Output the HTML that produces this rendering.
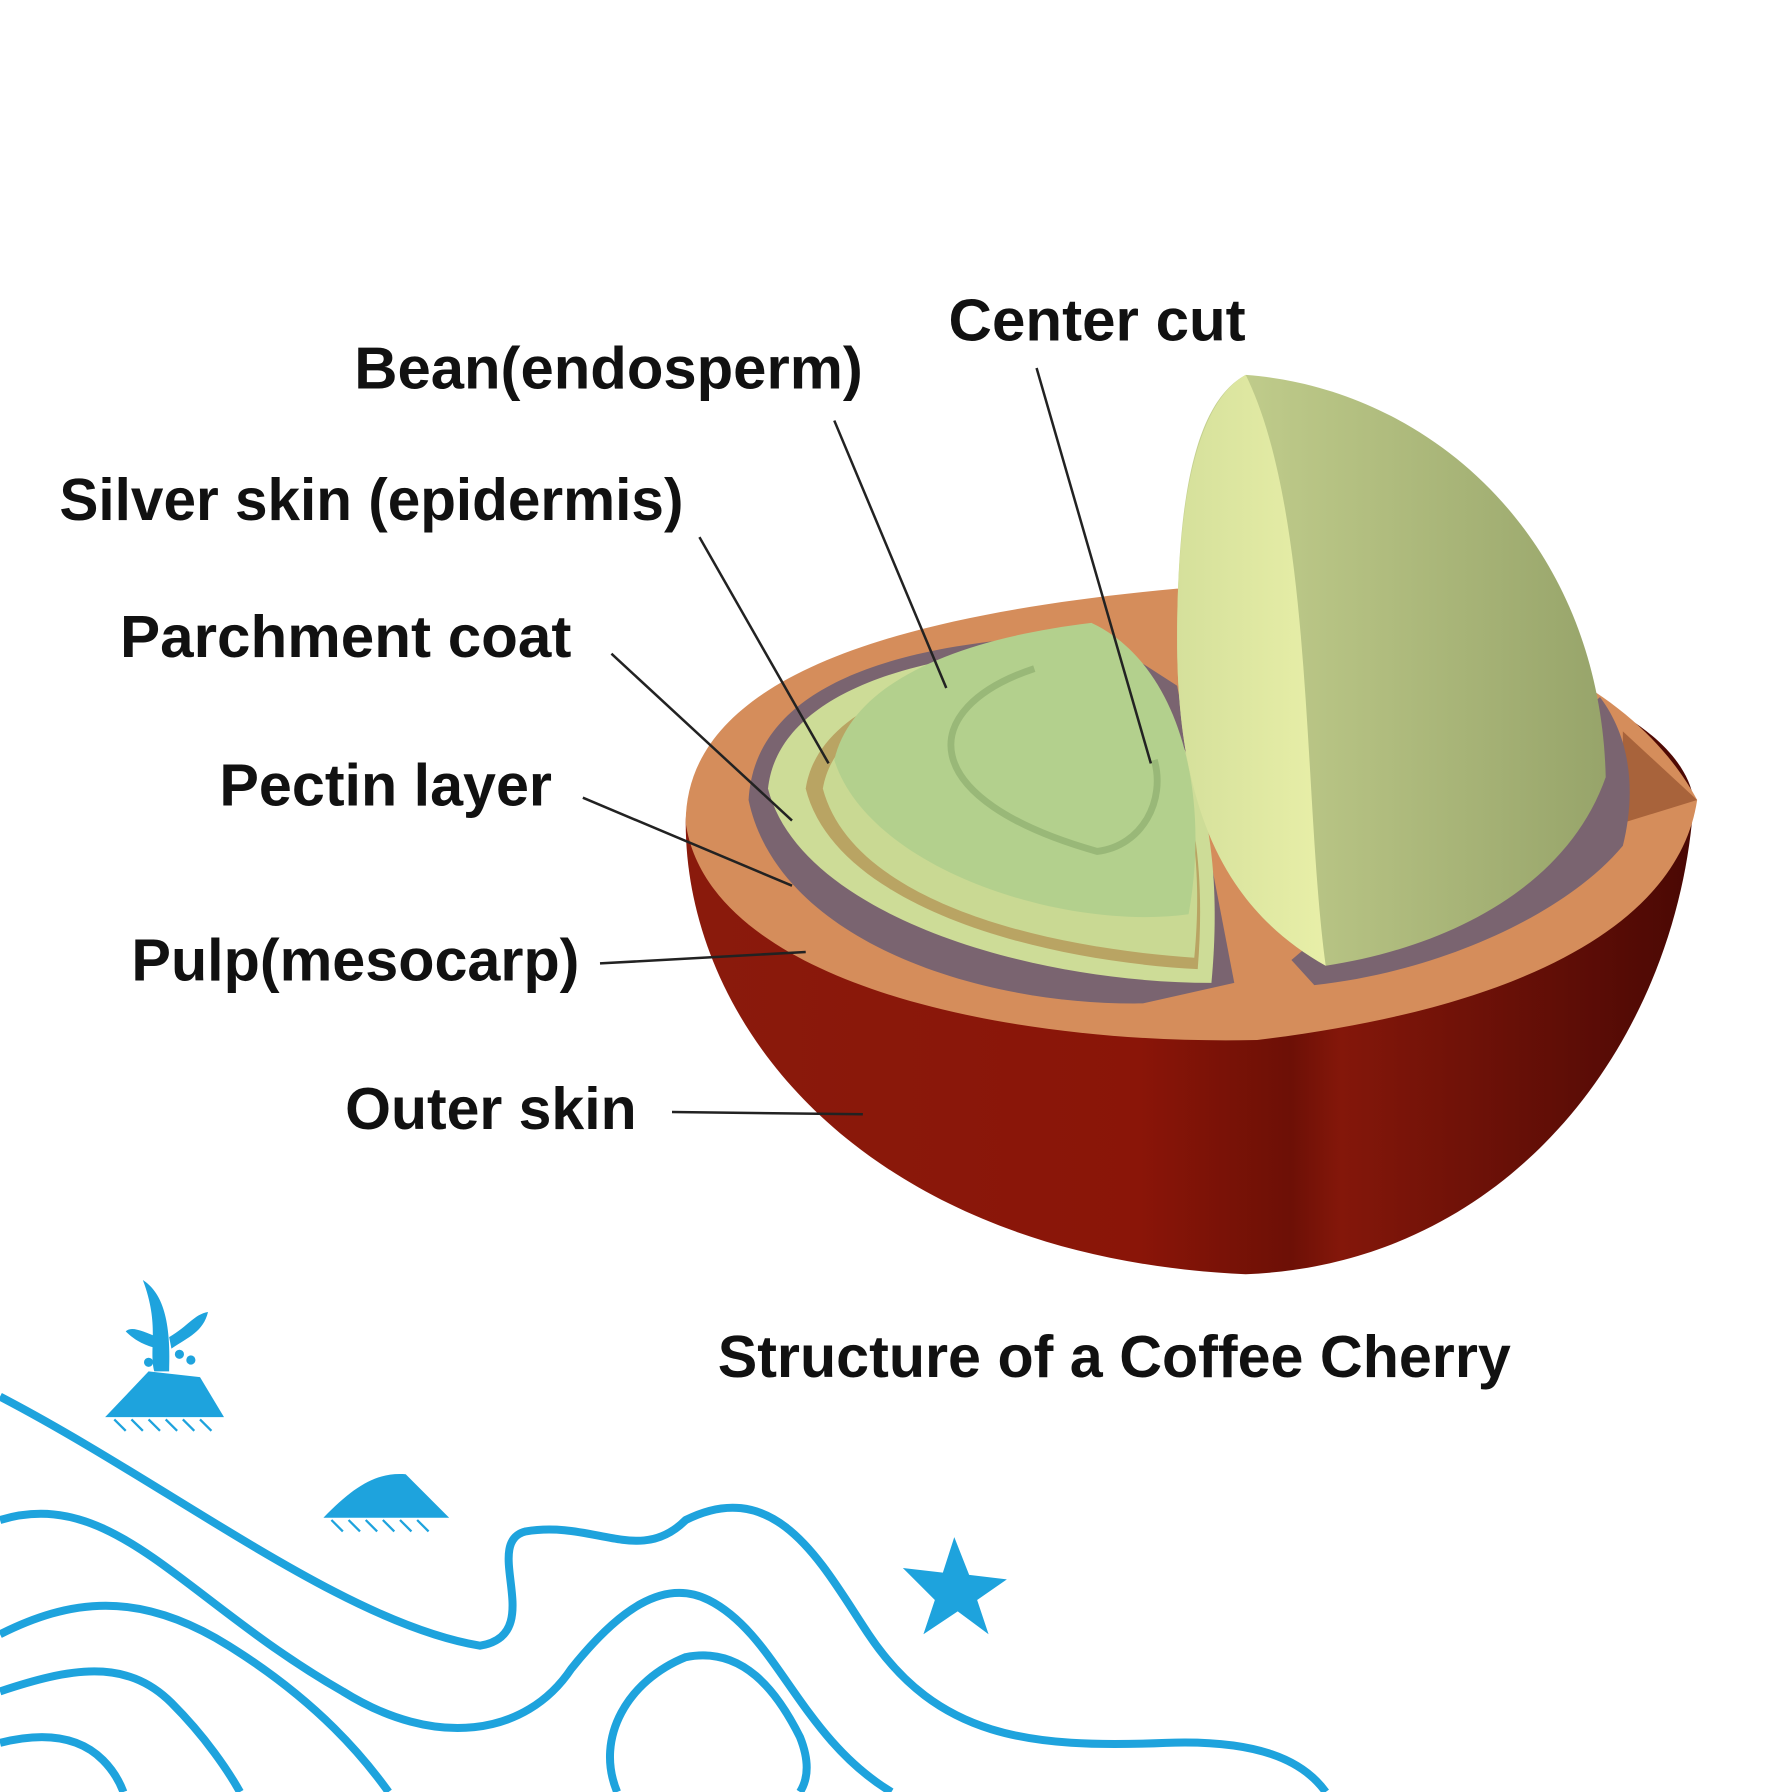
<!DOCTYPE html>
<html><head><meta charset="utf-8"><style>
html,body{margin:0;padding:0;background:#fff;}
svg{display:block;}
text{font-family:"Liberation Sans",sans-serif;fill:#111;font-weight:600;}
</style></head><body>
<svg width="1792" height="1792" viewBox="0 0 1568 1568" xmlns="http://www.w3.org/2000/svg">
<defs>
<linearGradient id="red" x1="0" x2="1" y1="0" y2="0">
<stop offset="0" stop-color="#8a1a0c"/><stop offset="0.45" stop-color="#8a1508"/><stop offset="0.6" stop-color="#6d1006"/><stop offset="0.65" stop-color="#84170a"/><stop offset="1" stop-color="#4a0804"/></linearGradient>
<linearGradient id="bean" x1="0" x2="1"><stop offset="0" stop-color="#c7d391"/><stop offset="1" stop-color="#97a46a"/></linearGradient>
<linearGradient id="beanface" x1="0" x2="1"><stop offset="0" stop-color="#d5e09b"/><stop offset="1" stop-color="#e8efa8"/></linearGradient>
</defs>
<rect width="1568" height="1568" fill="#fff"/>
<!-- red bowl -->
<path d="M600,720 C600,900 760,1100 1090,1115 C1330,1105 1470,900 1482,700 C1470,620 1300,550 1030,540 C800,550 600,620 600,720 Z" fill="url(#red)"/>
<!-- orange top -->
<path d="M600,720 C600,600 760,540 1030,515 C1250,520 1420,580 1485,700 C1470,800 1350,880 1100,910 C880,915 620,860 600,720 Z" fill="#d58d5b"/>
<path d="M1420,640 L1485,700 L1420,720 Z" fill="#a8633b"/>
<!-- purple pit -->
<path d="M655,700 C660,610 760,560 960,555 L1030,600 L1080,860 L1000,878 C850,880 680,820 655,700 Z" fill="#7a6470"/>
<path d="M1130,840 L1400,610 C1430,650 1430,700 1420,740 C1370,800 1260,850 1150,862 Z" fill="#7a6470"/>
<!-- left bean layers -->
<path d="M672,690 C680,615 780,570 950,565 C1030,600 1075,700 1060,860 C900,860 700,800 672,690 Z" fill="#cddc97"/>
<path d="M705,690 C715,625 800,585 950,575 C1020,610 1060,700 1048,848 C900,840 730,790 705,690 Z" fill="#b9a463"/>
<path d="M720,690 C730,630 810,595 950,585 C1020,615 1058,700 1045,838 C900,828 745,785 720,690 Z" fill="#c9d993"/>
<path d="M730,665 C745,600 830,560 955,545 C1030,580 1060,690 1040,800 C930,815 760,760 730,665 Z" fill="#b3d08d"/>
<path d="M905,585 C800,620 800,700 960,745 C1000,740 1020,700 1010,665" fill="none" stroke="#99b878" stroke-width="6"/>
<!-- right bean -->
<path d="M1090,328 C1250,340 1400,470 1405,680 C1370,780 1260,830 1160,845 C1080,800 1030,720 1030,560 C1030,420 1050,350 1090,328 Z" fill="url(#bean)"/>
<path d="M1090,328 C1050,350 1030,430 1030,560 C1030,720 1080,800 1160,845 C1140,700 1150,450 1090,328 Z" fill="url(#beanface)"/>
<!-- leader lines -->
<g stroke="#222" stroke-width="2.2" fill="none">
<line x1="907" y1="322" x2="1007" y2="668"/>
<line x1="730" y1="368" x2="828" y2="602"/>
<line x1="612" y1="470" x2="725" y2="668"/>
<line x1="535" y1="572" x2="693" y2="718"/>
<line x1="510" y1="698" x2="693" y2="775"/>
<line x1="525" y1="843" x2="705" y2="833"/>
<line x1="588" y1="973" x2="755" y2="975"/>
</g>
<!-- labels -->
<g font-size="52">
<text x="830" y="298" textLength="260" lengthAdjust="spacingAndGlyphs">Center cut</text>
<text x="310" y="340" textLength="445" lengthAdjust="spacingAndGlyphs">Bean(endosperm)</text>
<text x="52" y="455" textLength="546" lengthAdjust="spacingAndGlyphs">Silver skin (epidermis)</text>
<text x="105" y="575" textLength="395" lengthAdjust="spacingAndGlyphs">Parchment coat</text>
<text x="192" y="705" textLength="291" lengthAdjust="spacingAndGlyphs">Pectin layer</text>
<text x="115" y="858" textLength="392" lengthAdjust="spacingAndGlyphs">Pulp(mesocarp)</text>
<text x="302" y="988" textLength="255" lengthAdjust="spacingAndGlyphs">Outer skin</text>
<text x="628" y="1205" textLength="694" lengthAdjust="spacingAndGlyphs">Structure of a Coffee Cherry</text>
</g>
<!-- blue decorations -->
<g fill="#1ea3dd">
<path d="M92,1240 L130,1200 L175,1205 L196,1240 Z"/>
<path d="M135,1200 C130,1180 140,1160 125,1120 C140,1130 150,1150 148,1200 Z"/>
<path d="M148,1170 C165,1160 170,1150 182,1148 C178,1165 165,1170 150,1180 Z"/>
<path d="M138,1170 C125,1165 115,1160 110,1165 C120,1175 130,1178 138,1180 Z"/>
<circle cx="157" cy="1185" r="4"/><circle cx="167" cy="1190" r="4"/><circle cx="130" cy="1192" r="4"/>
<path d="M283,1328 C310,1300 330,1288 355,1290 L393,1328 Z"/>
<path d="M835,1345 L848,1378 L881,1382 L855,1400 L865,1430 L838,1410 L808,1430 L818,1400 L790,1372 L825,1376 Z"/>
</g>
<g stroke="#1ea3dd" stroke-width="2" fill="none">
<path d="M100,1242 l10,10 M115,1242 l10,10 M130,1242 l10,10 M145,1242 l10,10 M160,1242 l10,10 M175,1242 l10,10"/>
<path d="M290,1330 l10,10 M305,1330 l10,10 M320,1330 l10,10 M335,1330 l10,10 M350,1330 l10,10 M365,1330 l10,10"/>
</g>
<g stroke="#1ea3dd" stroke-width="7" fill="none">
<path d="M0,1222 C150,1300 300,1420 420,1440 C480,1430 420,1350 460,1340 C520,1330 560,1370 600,1330 C680,1290 720,1370 760,1430 C820,1520 900,1530 1020,1525 C1100,1522 1140,1540 1160,1568"/>
<path d="M0,1330 C100,1300 160,1400 300,1480 C380,1530 460,1520 500,1460 C540,1410 580,1380 620,1400 C680,1430 700,1520 780,1568"/>
<path d="M0,1430 C60,1400 120,1390 200,1440 C280,1490 320,1540 340,1568"/>
<path d="M0,1480 C60,1460 110,1450 150,1490 C180,1520 200,1550 210,1568"/>
<path d="M0,1525 C40,1515 70,1520 90,1540 C100,1550 105,1560 108,1568"/>
<path d="M540,1568 C520,1520 550,1470 600,1450 C650,1440 680,1480 700,1520 C710,1545 705,1560 700,1568"/>
</g>
</svg>
</body></html>
